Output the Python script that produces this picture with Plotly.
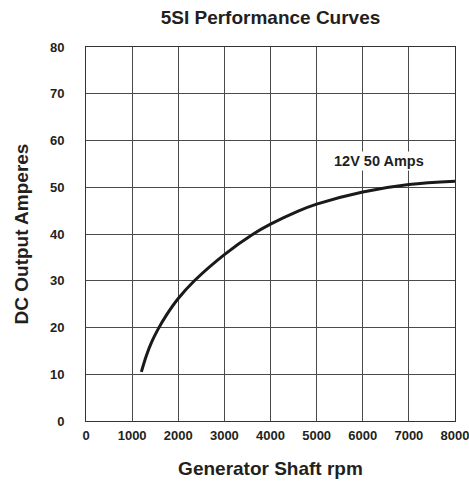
import plotly.graph_objects as go

rpm = [1200, 1310, 1420, 1560, 1740, 2000, 2350, 3000, 3610, 4000, 4600, 5000, 6000, 7000, 8000]
amps = [10.5, 14.0, 16.8, 19.6, 22.6, 26.2, 30.0, 35.6, 39.9, 42.1, 44.9, 46.4, 49.0, 50.6, 51.3]
x_ticks = [0, 1000, 2000, 3000, 4000, 5000, 6000, 7000, 8000]
y_ticks = [0, 10, 20, 30, 40, 50, 60, 70, 80]
curve_label = "12V 50 Amps"
label_pos = (6350, 55.7)

FONT = "Liberation Sans, Arial, sans-serif"
TXT = "#231f20"
GRID = "#4a4a4a"

fig = go.Figure()
fig.add_trace(go.Scatter(
    x=rpm, y=amps, mode="lines",
    line=dict(color="#1a1a1a", width=3, shape="spline", smoothing=1.0),
    hoverinfo="skip", showlegend=False,
))

fig.add_annotation(
    x=label_pos[0], y=label_pos[1], text="<b>" + curve_label + "</b>",
    showarrow=False, bgcolor="white", borderpad=1,
    font=dict(family=FONT, size=14.5, color=TXT),
)

fig.update_layout(
    width=469, height=483,
    margin=dict(l=86, r=14, t=47, b=62, autoexpand=False),
    paper_bgcolor="white", plot_bgcolor="white",
    title=dict(text="<b>5SI Performance Curves</b>", xref="paper", x=0.5, xanchor="center",
               y=1 - 17 / 483, yanchor="middle",
               font=dict(family=FONT, size=19, color=TXT)),
    showlegend=False,
)

fig.update_xaxes(
    range=[0, 8000], tickvals=x_ticks, ticktext=[f"<b>{v}</b>" for v in x_ticks],
    showgrid=True, gridcolor=GRID, gridwidth=1,
    showline=True, linecolor="#333", linewidth=1, mirror=True,
    zeroline=False, ticks="", ticklabelstandoff=2, ticklabeloverflow="allow",
    automargin=False,
    tickfont=dict(family=FONT, size=13, color=TXT),
    title=dict(text="<b>Generator Shaft rpm</b>", standoff=20,
               font=dict(family=FONT, size=19, color=TXT)),
)
fig.update_yaxes(
    range=[0, 80], tickvals=y_ticks, ticktext=[f"<b>{v}</b>" for v in y_ticks],
    showgrid=True, gridcolor=GRID, gridwidth=1,
    showline=True, linecolor="#333", linewidth=1, mirror=True,
    zeroline=False, ticks="", ticklabelstandoff=18, ticklabeloverflow="allow",
    automargin=False,
    tickfont=dict(family=FONT, size=13, color=TXT),
    title=dict(text="<b>DC Output Amperes</b>", standoff=16,
               font=dict(family=FONT, size=19, color=TXT)),
)

fig.write_html(
    "out.html",
    config={"displayModeBar": False},
    post_script="document.body.style.margin='0';document.body.style.padding='0';",
)
